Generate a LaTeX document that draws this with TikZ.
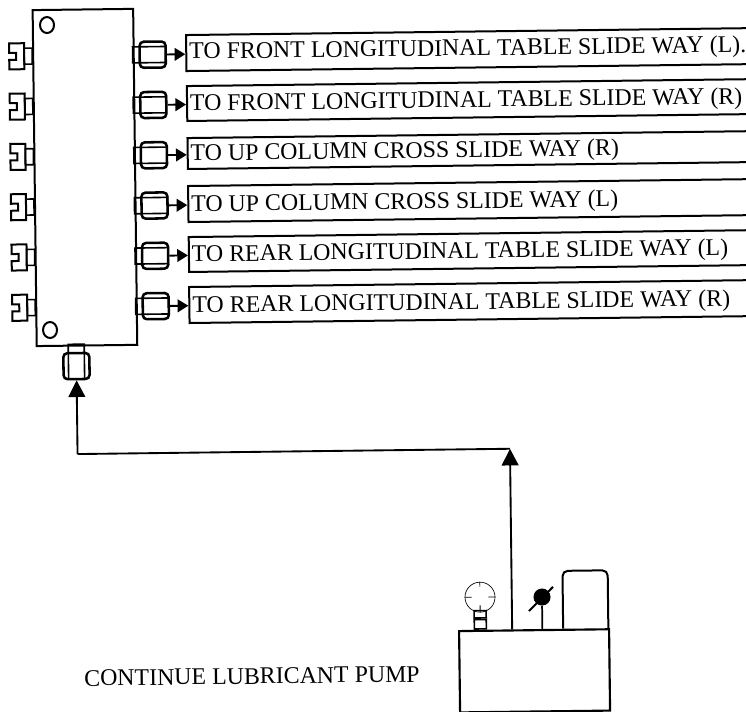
\documentclass[tikz,border=0pt]{standalone}
\usepackage{fontspec}
\setmainfont{Liberation Serif}
\usetikzlibrary{arrows.meta}
\tikzset{
	blockbox/.style={draw,line width=1.5pt,inner sep=0pt,anchor=north west,minimum width=75.4pt,minimum height=252pt},
	slideway/.style={draw,line width=1.5pt,inner sep=0pt,anchor=west,minimum width=432pt},
	wayname/.style={inner sep=0pt,anchor=base west,font=\fontsize{17.9}{20}\selectfont},
	fitbody/.style={draw,line width=1.9pt,rounded corners=3pt,inner sep=0pt,minimum width=19.5pt,minimum height=19.5pt},
	fitstub/.style={draw,line width=1.2pt,inner sep=0pt},
	feedline/.style={line width=1.4pt,-{Triangle[length=12.5pt,width=12.5pt]}},
	hole/.style={draw,line width=1.5pt,ellipse,inner sep=0pt,minimum width=10.5pt,minimum height=12pt}
}
\usetikzlibrary{shapes.geometric}
\begin{document}
\begin{tikzpicture}[x=0.75pt,y=-0.75pt]
	\useasboundingbox (0,0) rectangle (746,711);
	\begin{scope}[rotate=0.7,transform shape]
		% distributor block
		\node[blockbox] (block) at (31.5,9.5) {};
		\node[hole] (holetop) at (46.7,25.6) {};
		\node[hole] (holebot) at (46,330.6) {};
		
		% outlet boxes
		\node[slideway,minimum height=27pt] (way1) at (184.6,55.3) {};
		\node[slideway,minimum height=26.2pt] (way2) at (184.8,105.8) {};
		\node[slideway,minimum height=23.2pt] (way3) at (184.8,155.8) {};
		\node[slideway,minimum height=27pt] (way4) at (184.8,206.3) {};
		\node[slideway,minimum height=26.2pt] (way5) at (184.8,256.8) {};
		\node[slideway,minimum height=27pt] (way6) at (184.6,307.3) {};
		
		% outlet texts
		\node[wayname] (name1) at (188.5,61.3) {TO FRONT LONGITUDINAL TABLE SLIDE WAY (L).};
		\node[wayname] (name2) at (188.5,113) {TO FRONT LONGITUDINAL TABLE SLIDE WAY (R)};
		\node[wayname] (name3) at (188.5,163) {TO UP COLUMN CROSS SLIDE WAY (R)};
		\node[wayname] (name4) at (188.5,214) {TO UP COLUMN CROSS SLIDE WAY (L)};
		\node[wayname] (name5) at (188.5,264) {TO REAR LONGITUDINAL TABLE SLIDE WAY (L)};
		\node[wayname] (name6) at (188.5,315) {TO REAR LONGITUDINAL TABLE SLIDE WAY (R)};
		
		% fittings on both sides of the block
		\foreach \i/\y in {1/56.5,2/106.8,3/157.1,4/207.4,5/257.7,6/308}{
			\node[fitbody] (fitr\i) at (152,\y) {};
			\node[fitstub,minimum width=24.8pt,minimum height=12pt] (stubr\i) at (148.5,\y) {};
			\draw[feedline,-{Triangle[length=8pt,width=9.5pt]}] (fitr\i.east) -- (way\i.west |- fitr\i.east);
			\node[fitstub,minimum width=6pt,minimum height=12pt] (stubl\i) at (27.5,\y) {};
			\coordinate (claw\i) at (8.5,\y);
			\draw[line width=1.5pt] (claw\i) ++(0,-3.5) -- ++(0,-9.5) -- ++(15,0) -- ++(0,26) -- ++(-15,0) -- ++(0,-9.5) -- ++(7,0) -- ++(0,-7) -- cycle;
		}
		
		% inlet fitting
		\node[fitbody] (fitin) at (72,367) {};
		\node[fitstub,minimum width=12pt,minimum height=26pt] (stubin) at (72,362.5) {};
		
		% pump
		\node[draw,line width=1.6pt,inner sep=0pt,anchor=north west,minimum width=112.5pt,minimum height=61pt] (pump) at (450.3,635.6) {};
		\node[inner sep=0pt,anchor=south west,minimum width=33.5pt,minimum height=43pt] (tank) at (555.5,635.6) {};
		\draw[line width=1.5pt,rounded corners=4pt] (tank.south west) -- (tank.north west) -- (tank.north east) -- (tank.south east);
		\node[draw,line width=0.5pt,circle,inner sep=0pt,minimum size=22.5pt] (gauge) at (472.7,603) {};
		\node[fill=black,circle,inner sep=0pt,minimum size=12.8pt] (valve) at (534.7,603.6) {};
		\draw[line width=1.3pt] (valve) -- (valve |- pump.north);
		\coordinate (slasha) at (521.5,617.5);
		\coordinate (slashb) at (545.8,593.7);
		\draw[line width=1.5pt] (slasha) -- (slashb);
		
		% gauge neck and ticks
		\node[draw,line width=1.2pt,inner sep=0pt,minimum width=9pt,minimum height=7pt,anchor=south] (neckbot) at (gauge |- pump.north) {};
		\node[draw,line width=1.2pt,inner sep=0pt,minimum width=9pt,minimum height=5.5pt,anchor=south] (necktop) at (neckbot.north) {};
		\draw[line width=0.5pt] (gauge.north) -- ++(0,5) (gauge.west) -- ++(7,0) (gauge.east) -- ++(-7,0);
		\draw[line width=0.7pt] (gauge.south) -- ++(0,-7);
		
		% feed line
		\coordinate (bend) at (504.5,455);
		\coordinate (corner) at (72,455);
		\draw[feedline] (pump.north -| bend) -- (bend);
		\draw[line width=1.4pt] (bend) -- (corner);
		\draw[feedline] (corner) -- (fitin.south);
		
		% pump caption
		\node[inner sep=0pt,anchor=base west,font=\fontsize{17.9}{20}\selectfont] (caption) at (75.7,687) {CONTINUE LUBRICANT PUMP};
	\end{scope}
\end{tikzpicture}
\end{document}
